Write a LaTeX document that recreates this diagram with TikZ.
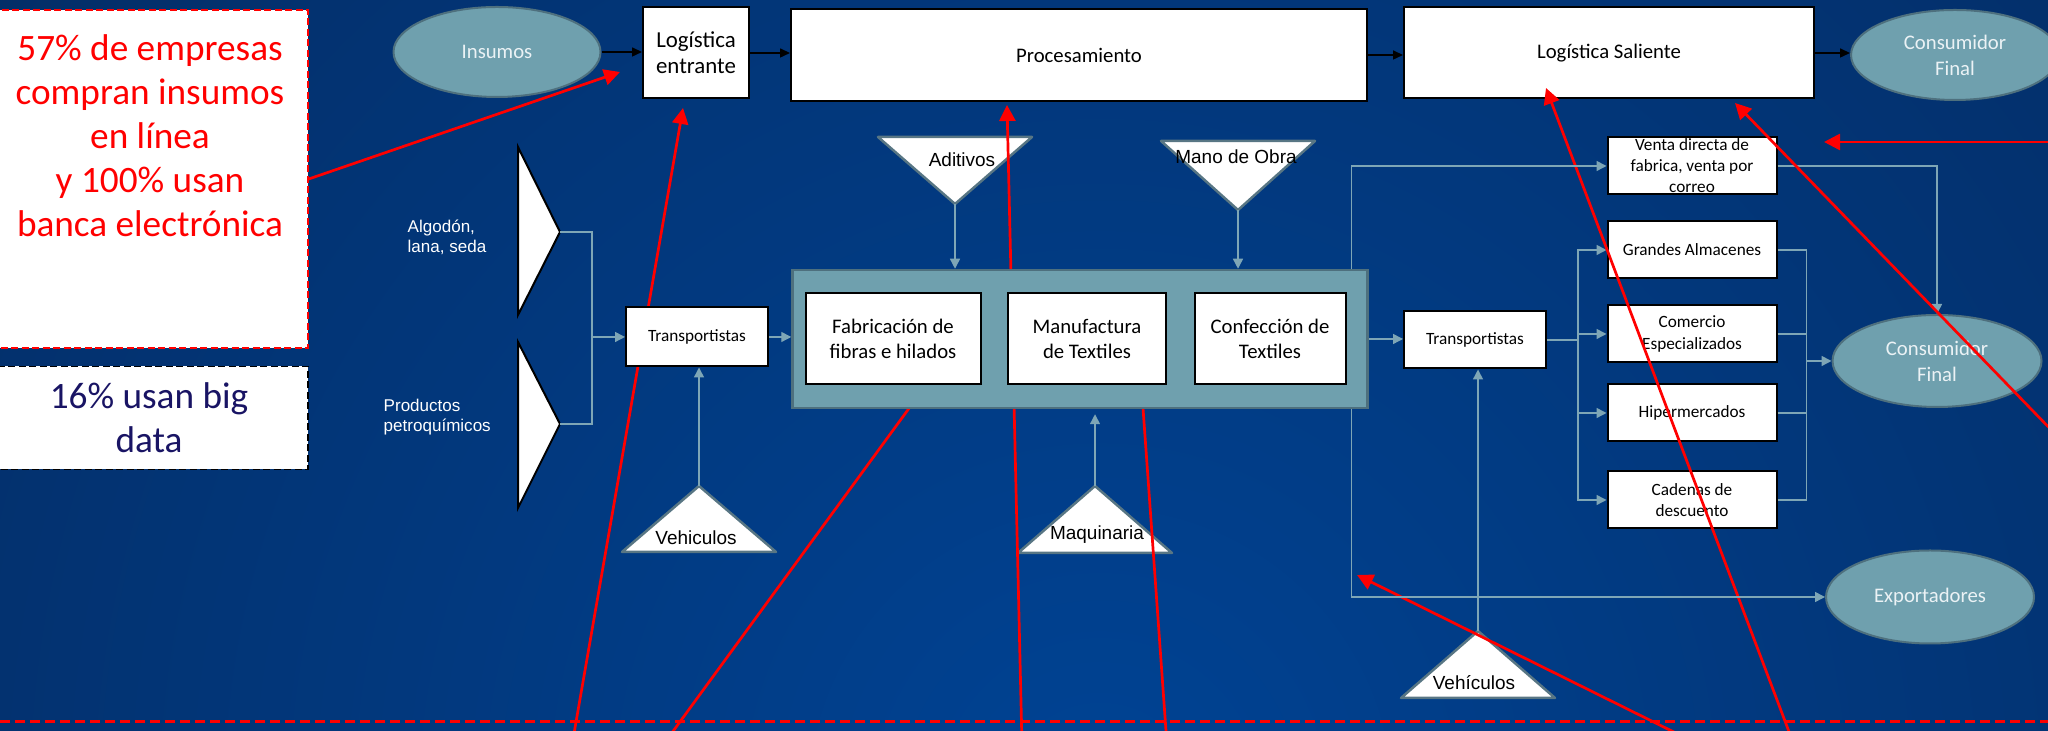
\documentclass[tikz,border=0pt]{standalone}
\usepackage{fontspec}
\setmainfont{Carlito}
\newfontfamily\arialf{Liberation Sans}
\usetikzlibrary{arrows.meta,shapes.geometric,calc}
\tikzset {>=Stealth}
\definecolor{bgin}{RGB}{0,67,148}
\definecolor{bgout}{RGB}{6,30,70}
\definecolor{tealfill}{RGB}{111,160,174}
\definecolor{tealdraw}{RGB}{78,112,126}
\definecolor{linkc}{RGB}{126,166,182}
\definecolor{tridraw}{RGB}{88,118,132}
\definecolor{navytxt}{RGB}{25,20,100}
\definecolor{elltxt}{RGB}{235,242,245}

\begin{document}
\begin{tikzpicture}[x=.1mm,y=-.1mm,
  box/.style={draw=black,line width=.2mm,fill=white,inner sep=0pt,
    align=center,font=\fontsize{5.9}{7.1}\selectfont},
  sbox/.style={box,font=\fontsize{4.9}{6}\selectfont},
  oval/.style={ellipse,draw=tealdraw,line width=.2mm,fill=tealfill,
    text=elltxt,align=center,inner sep=0pt,font=\fontsize{5.9}{7.4}\selectfont},
  notebox/.style={fill=white,line width=.15mm,dash pattern=on .7mm off .35mm,
    inner sep=0pt,align=center,font=\fontsize{10.6}{12.6}\selectfont},
  tri/.style={draw=tridraw,line width=.25mm,fill=white,line join=round},
  trilbl/.style={inner sep=0pt,font=\arialf\fontsize{5.4}{6.5}\selectfont},
  raw/.style={text=white,align=left,inner sep=0pt,
    font=\arialf\fontsize{4.85}{5.7}\selectfont},
  chev/.style={draw=black,line width=.2mm,fill=white},
  flow/.style={draw=black,line width=.15mm,-{Triangle[length=1mm,width=.9mm]}},
  link/.style={draw=linkc,line width=.14mm},
  linkto/.style={link,-{Triangle[length=1mm,width=1mm]}},
  note/.style={draw=red,line width=.27mm,-{Triangle[length=1.6mm,width=1.6mm]}}]
\clip (0,0) rectangle (2048,731);
\shade[inner color=bgin,outer color=bgout] (1100,800) circle [radius=2400];

\node[notebox,draw=red,minimum width=31.8mm,minimum height=33.8mm] (nota) at (149,179) {};
\node[text=red,align=center,inner sep=0pt,font=\fontsize{10.6}{12.5}\selectfont]
  (notatxt) at (150,136) {57\% de empresas\\compran insumos\\en línea\\y 100\% usan\\banca electrónica};
\node[notebox,draw=black,text=navytxt,minimum width=31.8mm,minimum height=10.3mm]
  (bigdata) at (149,418) {16\% usan big\\data};

\node[oval,minimum width=20.7mm,minimum height=9mm] (ins) at (497,52) {Insumos};
\node[box,minimum width=10.6mm,minimum height=9.1mm,font=\fontsize{6.5}{7.4}\selectfont]
  (le) at (696,53) {Logística\\entrante};
\node[box,minimum width=57.6mm,minimum height=9.2mm] (proc) at (1079,55) {Procesamiento};
\node[box,minimum width=41mm,minimum height=9.1mm] (ls) at (1609,53) {Logística Saliente};
\node[oval,minimum width=20.8mm,minimum height=9mm] (cf) at (1955,55) {Consumidor\\Final};
\draw[flow] (ins.east) -- (ins.east -| le.west);
\draw[flow] (le.east) -- (le.east -| proc.west);
\draw[flow] (proc.east) -- (proc.east -| ls.west);
\draw[flow] (ls.east) -- (ls.east -| cf.west);

\draw[chev] (518,147) -- (560,232) coordinate (alg) -- (518,315) -- cycle;
\draw[chev] (518,342) -- (560,424) coordinate (pet) -- (518,508) -- cycle;
\node[raw,anchor=west] (algtxt) at (407,237) {Algodón,\\lana, seda};
\node[raw,anchor=west] (pettxt) at (383,417) {Productos\\petroquímicos};

\foreach \n/\x/\y/\ay/\lx/\ly/\t in {vehl/699/552/486/696/538/Vehiculos,
    maq/1095/553/486/1097/535/Maquinaria,vehr/1478/698/631/1474/683/Vehículos,
    adi/955/137/204/962/160/Aditivos,mano/1238/141/210/1236/157/Mano de Obra}
  {\draw[tri] (\x-77,\y) -- (\x,\ay) coordinate (\n) -- (\x+77,\y) -- cycle;
   \node[trilbl] (\n-t) at (\lx,\ly) {\t};}

\foreach \n/\y/\t in {vd/166/{Venta directa de\\fabrica, venta por\\correo},
    ga/250/{Grandes Almacenes},ce/334/{Comercio\\Especializados},
    hi/413/{Hipermercados},cd/500/{Cadenas de\\descuento}}
  \node[sbox,minimum width=16.9mm,minimum height=5.7mm] (\n) at (1692,\y) {\t};
\node[sbox,minimum width=14.2mm,minimum height=5.7mm] (trr) at (1475,340) {Transportistas};
\node[oval,minimum width=20.9mm,minimum height=9.2mm] (cf2) at (1937,361) {Consumidor\\Final};
\node[oval,minimum width=20.8mm,minimum height=9.3mm] (exp) at (1930,597) {Exportadores};

\draw[link] (alg) -- ++(32,0) coordinate (jl) |- (pet);
\draw[linkto] (vehr) -- (vehr |- trr.south);
\draw[link] (trr.east) -- ++(31,0) coordinate (jr);
\foreach \b in {ga,ce,hi,cd}
  \draw[linkto] (jr) |- (\b.west);
\draw[linkto] (vd.east) -| (cf2.north);
\coordinate (jc) at ($(cf2.west)+(-25,0)$);
\foreach \b in {ga,ce,hi,cd}
  \draw[link] (\b.east) -| (jc);
\draw[linkto] (jc) -- (cf2.west);

\foreach \n/\x/\y in {n1/620/72,s2/572/745,n2/683/108,s3/663/745,n3/929/381,
    s4/1022/745,n4/1007/105,s5/1167/745,n5/1141/380,s6/1700/745,n6/1357/575,
    s7/1794/745,n7/1546/88,s8/2060/439,n8/1735/103,s9/2060/142,n9/1824/142}
  \coordinate (\n) at (\x,\y);
\foreach \a/\b in {nota.east/n1,s2/n2,s3/n3,s4/n4,s5/n5,s6/n6,s7/n7,s8/n8,s9/n9}
  \draw[note] (\a) -- (\b);
\draw[red,line width=.3mm,dash pattern=on 1mm off .5mm] (0,722) -- (2048,722);

\node[sbox,minimum width=14.2mm,minimum height=5.9mm] (trl) at (697,337) {Transportistas};
\node[draw=tealdraw,line width=.25mm,fill=tealfill,minimum width=57.5mm,
  minimum height=13.8mm,inner sep=0pt] (proceso) at (1080,339) {};
\node[box,minimum width=17.5mm,minimum height=9.1mm] (fab) at (893,339) {Fabricación de\\fibras e hilados};
\node[box,minimum width=15.8mm,minimum height=9.1mm] (manu) at (1087,339) {Manufactura\\de Textiles};
\node[box,minimum width=15.1mm,minimum height=9.1mm] (conf) at (1270,339) {Confección de\\Textiles};

\draw[linkto] (jl |- trl.west) -- (trl.west);
\draw[linkto] (trl.east) -- (trl.east -| proceso.west);
\draw[linkto] (vehl) -- (vehl |- trl.south);
\draw[linkto] (adi) -- (adi |- proceso.north);
\draw[linkto] (mano) -- (mano |- proceso.north);
\draw[linkto,shorten >=.5mm] (maq) -- (maq |- proceso.south);
\draw[linkto] (proceso.east) -- (proceso.east -| trr.west);
\draw[linkto] ([xshift=-1.7mm]proceso.north east) |- (vd.west);
\draw[linkto] ([xshift=-1.7mm]proceso.south east) |- (exp.west);
\end{tikzpicture}
\end{document}
